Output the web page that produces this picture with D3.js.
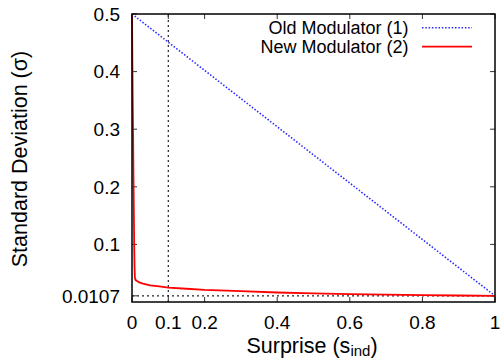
<!DOCTYPE html>
<html><head><meta charset="utf-8">
<script src="https://cdn.jsdelivr.net/npm/d3@7"></script>
<style>body{margin:0;background:#fff}svg{display:block}text{font-family:"Liberation Sans",Arial,sans-serif;fill:#000}</style>
</head><body><svg id="c" width="500" height="360"></svg>
<script>
const xTicks = [0, 0.1, 0.2, 0.4, 0.6, 0.8, 1];
const xTickLabels = ["0", "0.1", "0.2", "0.4", "0.6", "0.8", "1"];
const yTicks = [0.0107, 0.1, 0.2, 0.3, 0.4, 0.5];
const yTickLabels = ["0.0107", "0.1", "0.2", "0.3", "0.4", "0.5"];
const oldS = [0, 1];
const oldSigma = [0.5, 0.0107];
const newS = [0, 0.001, 0.002, 0.003, 0.004, 0.005, 0.006, 0.007, 0.008, 0.01, 0.015, 0.02, 0.03, 0.05, 0.075, 0.1, 0.15, 0.2, 0.3, 0.4, 0.5, 0.6, 0.7, 0.8, 0.9, 1.0];
const newSigma = [0.5, 0.42, 0.35, 0.29, 0.22, 0.16, 0.1, 0.06, 0.042, 0.038, 0.036, 0.034, 0.032, 0.029, 0.027, 0.025, 0.023, 0.021, 0.019, 0.0165, 0.015, 0.0137, 0.0127, 0.012, 0.0113, 0.0107];
const refS = 0.1;
const refSigma = 0.0107;
const seriesNames = ["Old Modulator (1)", "New Modulator (2)"];

const svg = d3.select("#c");
const L = 132, R = 495, T = 14, B = 302;
const x = d3.scaleLinear().domain([0, 1]).range([L, R]);
const y = d3.scaleLinear().domain([0, 0.5]).range([B, T]);

// reference lines
svg.append("line").attr("x1", x(refS)).attr("x2", x(refS)).attr("y1", y(0)).attr("y2", y(0.5))
  .attr("stroke", "#222").attr("stroke-width", 1.2).attr("stroke-dasharray", "2,3");
svg.append("line").attr("x1", x(0)).attr("x2", x(1)).attr("y1", y(refSigma)).attr("y2", y(refSigma))
  .attr("stroke", "#222").attr("stroke-width", 1.2).attr("stroke-dasharray", "2,3");

// ticks (all four sides, inward)
const tl = 5;
const tg = svg.append("g").attr("stroke", "#333").attr("stroke-width", 1);
xTicks.forEach(v => {
  tg.append("line").attr("x1", x(v)).attr("x2", x(v)).attr("y1", B).attr("y2", B - tl);
  tg.append("line").attr("x1", x(v)).attr("x2", x(v)).attr("y1", T).attr("y2", T + tl);
});
yTicks.forEach(v => {
  tg.append("line").attr("x1", L).attr("x2", L + tl).attr("y1", y(v)).attr("y2", y(v));
  tg.append("line").attr("x1", R).attr("x2", R - tl).attr("y1", y(v)).attr("y2", y(v));
});

// series
const line = d3.line().x(d => x(d[0])).y(d => y(d[1]));
svg.append("path").datum(oldS.map((s, i) => [s, oldSigma[i]])).attr("d", line)
  .attr("fill", "none").attr("stroke", "#2a2aff").attr("stroke-width", 1.6).attr("stroke-dasharray", "1.5,1.8");
svg.append("path").datum(newS.map((s, i) => [s, newSigma[i]])).attr("d", line)
  .attr("fill", "none").attr("stroke", "#ff0000").attr("stroke-width", 1.8);

// frame
svg.append("rect").attr("x", L).attr("y", T).attr("width", R - L).attr("height", B - T)
  .attr("fill", "none").attr("stroke", "#000").attr("stroke-width", 1.5);

// tick labels
svg.append("g").selectAll("text").data(xTicks).join("text")
  .attr("x", d => x(d)).attr("y", 328.5).attr("text-anchor", "middle").attr("font-size", 19)
  .text((d, i) => xTickLabels[i]);
svg.append("g").selectAll("text").data(yTicks).join("text")
  .attr("x", 120).attr("y", d => y(d)).attr("dy", "0.36em").attr("text-anchor", "end").attr("font-size", 19)
  .text((d, i) => yTickLabels[i]);

// axis labels
svg.append("text").attr("transform", "translate(27,159) rotate(-90)").attr("text-anchor", "middle")
  .attr("font-size", 21.5).text("Standard Deviation (σ)");
const xl = svg.append("text").attr("x", 312).attr("y", 353).attr("text-anchor", "middle").attr("font-size", 21.5);
xl.append("tspan").text("Surprise (s");
xl.append("tspan").attr("font-size", 15).attr("dy", 3).text("ind");
xl.append("tspan").attr("dy", -3).text(")");

// legend
const lg = svg.append("g");
const styles = [{c: "#2a2aff", d: "1.5,1.8", w: 1.6}, {c: "#ff0000", d: null, w: 1.8}];
seriesNames.forEach((n, i) => {
  const cy = 27.7 + i * 19;
  lg.append("text").attr("x", 408.5).attr("y", cy).attr("dy", "0.36em").attr("text-anchor", "end")
    .attr("font-size", 18).text(n);
  lg.append("line").attr("x1", 422).attr("x2", 472).attr("y1", cy).attr("y2", cy)
    .attr("stroke", styles[i].c).attr("stroke-width", styles[i].w).attr("stroke-dasharray", styles[i].d);
});
</script></body></html>
